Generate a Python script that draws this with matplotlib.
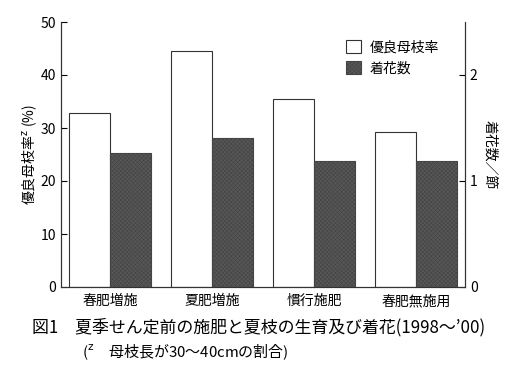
import numpy as np
import matplotlib
matplotlib.use("Agg")
import matplotlib.pyplot as plt
from matplotlib.patches import Patch

plt.rcParams['font.family'] = ['Noto Sans CJK JP', 'DejaVu Sans']
plt.rcParams['hatch.color'] = "#777777"
plt.rcParams['hatch.linewidth'] = 0.4

categories = ["春肥増施", "夏肥増施", "慣行施肥", "春肥無施用"]
good_rate = [32.8, 44.6, 35.4, 29.3]      # 優良母枝率 (%), left axis
flowers = [1.26, 1.405, 1.19, 1.19]       # 着花数/節, right axis

fig = plt.figure(figsize=(5.14, 3.72), dpi=100)
ax = fig.add_axes([61 / 514, 1 - 287 / 372, 404 / 514, 265 / 372])
ax2 = ax.twinx()

x = np.arange(len(categories))
w = 0.4
dark = "#575757"
ax.bar(x - w / 2, good_rate, w, facecolor="white", edgecolor="#333333", linewidth=0.8)
ax2.bar(x + w / 2, flowers, w, facecolor=dark, edgecolor="#444444",
        linewidth=0.8, hatch="xxxxxxxx")

ax.set_xlim(-0.48, 3.48)
ax.set_ylim(0, 50)
ax2.set_ylim(0, 2.5)
ax.set_yticks([0, 10, 20, 30, 40, 50])
ax2.set_yticks([0, 1, 2])
ax.set_xticks(x)
ax.set_xticklabels(categories, fontsize=10)
ax.tick_params(axis="x", length=0, pad=5)
ax.tick_params(axis="y", direction="in", length=4, labelsize=10)
ax2.tick_params(axis="y", direction="in", length=4, labelsize=10)

for a in (ax, ax2):
    a.spines["top"].set_visible(False)
    for s in a.spines.values():
        s.set_linewidth(0.8)
        s.set_color("#333333")

ax.set_ylabel("優良母枝率$^{\\rm z}$ (%)", fontsize=10, labelpad=1)
ax2.set_ylabel("着花数／節", fontsize=10, rotation=270, labelpad=14)

handles = [Patch(facecolor="white", edgecolor="#333333", linewidth=0.8),
           Patch(facecolor=dark, edgecolor="#444444", hatch="xxxxxxxx", linewidth=0.8)]
ax.legend(handles, ["優良母枝率", "着花数"], loc="upper left",
          bbox_to_anchor=(0.675, 0.98), frameon=False, fontsize=10,
          handlelength=1.1, handleheight=1.1, handletextpad=0.6, labelspacing=0.5)

fig.text(32 / 514, 1 - 327 / 372, "図1　夏季せん定前の施肥と夏枝の生育及び着花(1998～’00)",
         fontsize=12.2, va="center", ha="left")
fig.text(82 / 514, 1 - 352 / 372, "($^{\\rm z}$　母枝長が30～40cmの割合)",
         fontsize=10.8, va="center", ha="left")

fig.savefig("out.png", dpi=100)
